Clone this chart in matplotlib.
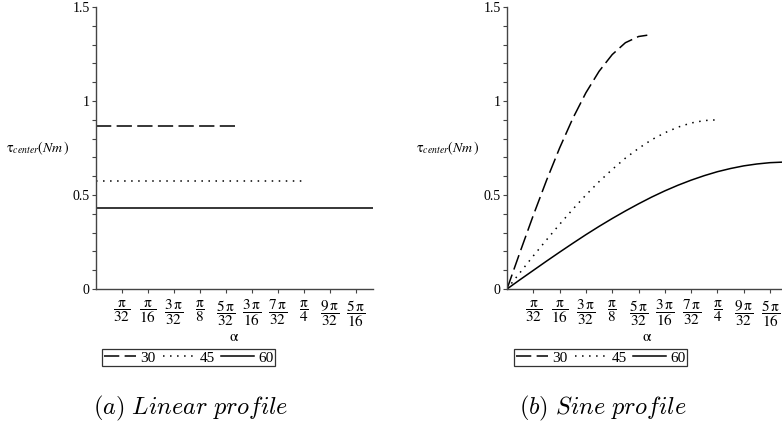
import numpy as np
import matplotlib.pyplot as plt
from matplotlib.ticker import MultipleLocator, FixedLocator

plt.rcParams['font.family'] = ['Liberation Serif', 'DejaVu Serif']
plt.rcParams['mathtext.fontset'] = 'stix'

angles = [30, 45, 60]

# (a) linear profile: constant torque up to each opening angle
lin_x = [[0, np.pi / 6], [0, np.pi / 4], [0, np.pi / 3]]
lin_y = [[0.866, 0.866], [0.577, 0.577], [0.433, 0.433]]

# (b) sine profile, sampled every pi/64
step = np.pi / 64
sin30_y = [0, 0.198, 0.392, 0.577, 0.750, 0.907, 1.044, 1.158, 1.247,
           1.310, 1.343, 1.350]
sin45_y = [0, 0.088, 0.176, 0.261, 0.344, 0.424, 0.500, 0.571, 0.636,
           0.696, 0.748, 0.794, 0.831, 0.861, 0.883, 0.896, 0.900]
sin60_y = [0, 0.050, 0.099, 0.148, 0.196, 0.243, 0.289, 0.333, 0.375,
           0.415, 0.453, 0.489, 0.522, 0.552, 0.579, 0.603, 0.624, 0.641,
           0.655, 0.665, 0.672, 0.675, 0.675]
sin30_x = [i * step for i in range(11)] + [np.pi / 6]
sin45_x = [i * step for i in range(17)]
sin60_x = [i * step for i in range(22)] + [np.pi / 3]

tick_pos = [k * np.pi / 32 for k in range(1, 11)]
tick_num = ['', '', '3', '', '5', '3', '7', '', '9', '5']
tick_den = ['32', '16', '32', '8', '32', '16', '32', '4', '32', '16']
tick_lbl = [r'$\dfrac{%s\,\mathrm{\pi}}{%s}$' % (n, d) if n else
            r'$\dfrac{\mathrm{\pi}}{%s}$' % d
            for n, d in zip(tick_num, tick_den)]

styles = [dict(ls=(0, (10, 3.5))), dict(ls=(0, (1, 3.6))), dict(ls='-')]

fig = plt.figure(figsize=(7.82, 4.29), dpi=100)
ax_a = fig.add_axes([96 / 782, 140 / 429, 277 / 782, 282 / 429])
ax_b = fig.add_axes([507 / 782, 140 / 429, 280.6 / 782, 282 / 429])


def style_axes(ax):
    ax.set_xlim(0, np.pi / 3)
    ax.set_ylim(0, 1.5)
    for s in ['top', 'right']:
        ax.spines[s].set_visible(False)
    for s in ['left', 'bottom']:
        ax.spines[s].set_color('#444444')
        ax.spines[s].set_linewidth(1.0)
    ax.xaxis.set_major_locator(FixedLocator(tick_pos))
    ax.set_xticklabels(tick_lbl)
    ax.yaxis.set_major_locator(FixedLocator([0, 0.5, 1, 1.5]))
    ax.set_yticklabels(['0', '0.5', '1', '1.5'])
    ax.yaxis.set_minor_locator(MultipleLocator(0.1))
    ax.tick_params(axis='both', which='both', direction='out', length=3,
                   width=0.8, color='#444444', labelsize=10, pad=1.5)
    ax.tick_params(axis='x', labelsize=11, pad=4)
    ax.set_xlabel(r'$\mathrm{\alpha}$', fontsize=11, labelpad=1)
    ax.set_ylabel(r'$\mathrm{\tau}_{center}(Nm\,)$', fontsize=10, rotation=0,
                  va='center')
    ax.yaxis.set_label_coords(-0.21, 0.50)


lines_a = []
for xs, ys, st in zip(lin_x, lin_y, styles):
    ln, = ax_a.plot(xs, ys, color='black', lw=1.1, **st)
    lines_a.append(ln)
style_axes(ax_a)

lines_b = []
for xs, ys, st in zip([sin30_x, sin45_x, sin60_x], [sin30_y, sin45_y, sin60_y], styles):
    ln, = ax_b.plot(xs, ys, color='black', lw=1.1, **st)
    lines_b.append(ln)
style_axes(ax_b)

for ax, lines, x0 in [(ax_a, lines_a, 102), (ax_b, lines_b, 514)]:
    leg = fig.legend(lines, [str(a) for a in angles], ncol=3,
                     loc='upper left', bbox_to_anchor=(x0 / 782, 1 - 349 / 429),
                     frameon=True, fancybox=False, edgecolor='black',
                     fontsize=11, handlelength=2.1, handletextpad=0.3,
                     columnspacing=0.45, borderpad=0.12, borderaxespad=0)
    leg.get_frame().set_linewidth(0.9)

fig.text(191 / 782, 1 - 408 / 429, r'$\mathit{(a)\ Linear\ profile}$',
         fontsize=17.5, ha='center', va='center', math_fontfamily='cm')
fig.text(603 / 782, 1 - 408 / 429, r'$\mathit{(b)\ Sine\ profile}$',
         fontsize=17.5, ha='center', va='center', math_fontfamily='cm')

fig.savefig('out.png', dpi=100)
